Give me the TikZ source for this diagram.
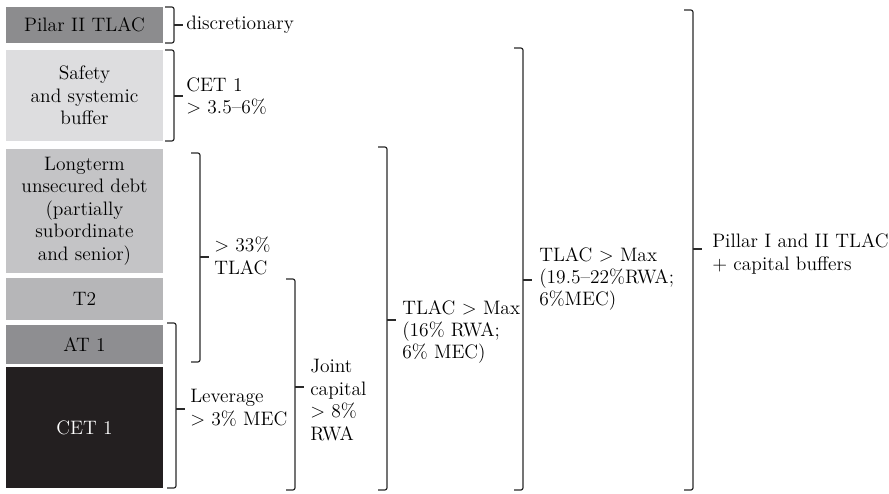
\documentclass[tikz,border=0pt]{standalone}
\definecolor{cPilar}{HTML}{8C8C8E}
\definecolor{cSafety}{HTML}{DDDDDF}
\definecolor{cLong}{HTML}{C4C4C6}
\definecolor{cTtwo}{HTML}{B6B6B8}
\definecolor{cATone}{HTML}{8E8E91}
\definecolor{cCET}{HTML}{231F20}
\definecolor{cLine}{HTML}{2A2A2A}
\newcommand\brk[4]{%
  \draw[bracestyle] (#1-9,#2) -- (#1,#2) -- (#1,#3) -- (#1-9,#3);
  \draw[bracestyle] (#1,#4) -- (#1+9,#4);}
\begin{document}
\begin{tikzpicture}[x=0.75pt,y=-0.75pt,
  every node/.style={font=\fontsize{14.6}{16.8}\selectfont, inner sep=0pt},
  box/.style={minimum width=117.75pt, align=center, text=black},
  lbl/.style={anchor=west, align=left, text=black},
  bracestyle/.style={draw=cLine, line width=0.9pt, rounded corners=1.6pt}]
\useasboundingbox (0,0) rectangle (889,493);
% boxes
\node[box, fill=cPilar, minimum height=27pt] (pilar) at (84.5,25) {Pilar II TLAC};
\node[box, fill=cSafety, minimum height=68.25pt] (safety) at (84.5,95.5) {Safety\\and systemic\\buffer};
\node[box, fill=cLong, minimum height=93pt] (longterm) at (84.5,211) {Longterm\\unsecured debt\\(partially\\subordinate\\and senior)};
\node[box, fill=cTtwo, minimum height=31.5pt] (ttwo) at (84.5,299) {T2};
\node[box, fill=cATone, minimum height=29.25pt] (atone) at (84.5,344.5) {AT 1};
\node[box, fill=cCET, minimum height=90.75pt, text=white] (cetone) at (84.5,427.5) {CET 1};
% brackets
\brk{174}{7}{43}{25}
\brk{174}{50}{141}{96}
\brk{200}{153}{362}{257}
\brk{176}{323}{488}{409}
\brk{295}{279}{490}{387}
\brk{387}{147}{490}{320}
\brk{523}{48}{490}{280}
\brk{693}{10}{490}{249}
% labels
\node[lbl] (l1) at (186,25) {discretionary};
\node[lbl] (l2) at (186,96) {CET 1\\> 3.5--6\%};
\node[lbl] (l3) at (214,256) {> 33\%\\TLAC};
\node[lbl] (l4) at (190,408) {Leverage\\> 3\% MEC};
\node[lbl] (l5) at (310,400) {Joint\\capital\\> 8\%\\RWA};
\node[lbl] (l6) at (402,332) {TLAC > Max\\(16\% RWA;\\6\% MEC)};
\node[lbl] (l7) at (539,279) {TLAC > Max\\(19.5--22\%RWA;\\6\%MEC)};
\node[lbl] (l8) at (712,254) {Pillar I and II TLAC\\+ capital buffers};
\end{tikzpicture}
\end{document}
